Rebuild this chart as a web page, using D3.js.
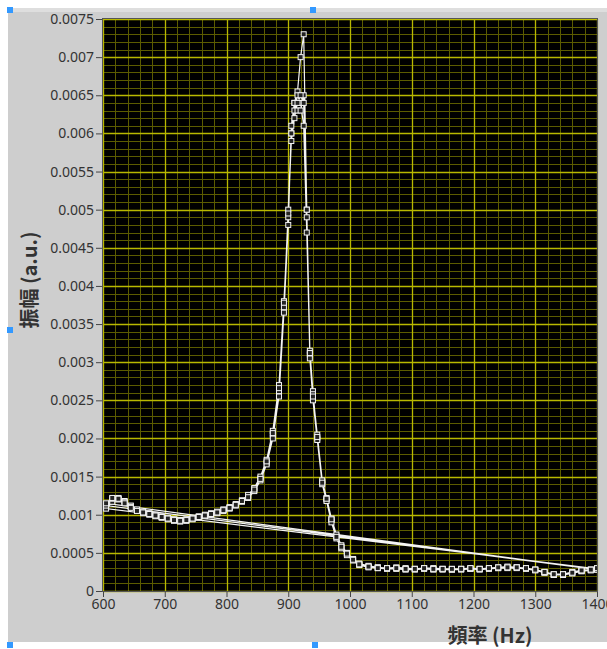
<!DOCTYPE html>
<html>
<head>
<meta charset="utf-8">
<script src="https://cdn.jsdelivr.net/npm/d3@7"></script>
<style>
  body { margin: 0; background: #fff; }
  svg { display: block; }
  .axis text { font-family: "Noto Sans", "DejaVu Sans", sans-serif; font-size: 14px; fill: #333; }
  .axis line { stroke: #444; }
  .axis .domain { display: none; }
</style>
</head>
<body>
<div id="chart"></div>
<script>
// frequency points of each sweep (Hz)
const freqs = [605,615,625,635,645,655,665,675,685,695,705,715,725,735,745,755,765,775,785,795,
  805,815,825,835,845,855,865,875,885,893,900,905,910,915,920,925,930,935,940,947,
  955,962,970,978,986,995,1005,1015,1030,1045,1060,1075,1090,1105,1120,1135,1150,1165,1180,1195,
  1210,1225,1240,1255,1270,1285,1300,1315,1330,1345,1360,1375,1390,1400];

// amplitude of the four sweeps (a.u.)
const sweepA = [0.00110,0.00119,0.00120,0.00116,0.00111,0.00106,0.00103,0.00101,0.00099,0.00097,
  0.00095,0.00093,0.00092,0.00093,0.00095,0.00097,0.00099,0.00101,0.00103,0.00106,
  0.00109,0.00113,0.00118,0.00124,0.00133,0.00148,0.00168,0.00205,0.00262,0.00372,
  0.00500,0.00600,0.00640,0.00655,0.00700,0.00730,0.00500,0.00315,0.00262,0.00200,
  0.00143,0.00120,0.00093,0.00072,0.00058,0.00049,0.00041,0.00035,0.00032,0.00031,
  0.00030,0.00030,0.00029,0.00029,0.00030,0.00029,0.00029,0.00028,0.00029,0.00029,
  0.00029,0.00030,0.00030,0.00031,0.00031,0.00030,0.00028,0.00025,0.00022,0.00022,
  0.00025,0.00027,0.00028,0.00029];
const sweepB = [0.00108,0.00117,0.00121,0.00118,0.00112,0.00107,0.00104,0.00102,0.00100,0.00098,
  0.00096,0.00094,0.00093,0.00094,0.00096,0.00098,0.00100,0.00102,0.00104,0.00107,
  0.00110,0.00114,0.00119,0.00126,0.00135,0.00150,0.00172,0.00210,0.00270,0.00380,
  0.00490,0.00600,0.00630,0.00650,0.00640,0.00610,0.00470,0.00310,0.00258,0.00205,
  0.00145,0.00122,0.00095,0.00074,0.00060,0.00050,0.00042,0.00036,0.00033,0.00031,
  0.00030,0.00031,0.00030,0.00029,0.00030,0.00030,0.00029,0.00029,0.00029,0.00030,
  0.00029,0.00030,0.00031,0.00032,0.00031,0.00030,0.00028,0.00024,0.00021,0.00022,
  0.00024,0.00026,0.00028,0.00028];
const sweepC = [0.00112,0.00121,0.00122,0.00117,0.00110,0.00105,0.00102,0.00100,0.00098,0.00096,
  0.00094,0.00092,0.00091,0.00092,0.00094,0.00096,0.00098,0.00100,0.00102,0.00105,
  0.00108,0.00112,0.00117,0.00122,0.00131,0.00145,0.00166,0.00200,0.00255,0.00365,
  0.00480,0.00610,0.00640,0.00630,0.00630,0.00650,0.00490,0.00305,0.00250,0.00198,
  0.00140,0.00118,0.00090,0.00069,0.00056,0.00047,0.00040,0.00034,0.00031,0.00030,
  0.00029,0.00029,0.00028,0.00028,0.00029,0.00028,0.00028,0.00028,0.00028,0.00029,
  0.00028,0.00029,0.00030,0.00030,0.00030,0.00029,0.00027,0.00024,0.00021,0.00021,
  0.00023,0.00026,0.00027,0.00028];
const sweepD = [0.00115,0.00122,0.00121,0.00115,0.00109,0.00105,0.00103,0.00101,0.00099,0.00097,
  0.00095,0.00093,0.00092,0.00093,0.00095,0.00097,0.00099,0.00101,0.00103,0.00106,
  0.00109,0.00113,0.00118,0.00123,0.00133,0.00147,0.00170,0.00207,0.00266,0.00378,
  0.00495,0.00590,0.00620,0.00640,0.00650,0.00640,0.00500,0.00312,0.00255,0.00202,
  0.00142,0.00121,0.00094,0.00071,0.00058,0.00049,0.00041,0.00035,0.00032,0.00030,
  0.00030,0.00030,0.00029,0.00029,0.00030,0.00029,0.00029,0.00029,0.00029,0.00030,
  0.00029,0.00030,0.00031,0.00031,0.00031,0.00030,0.00028,0.00025,0.00022,0.00022,
  0.00024,0.00027,0.00028,0.00030];

const xTicks = [600,700,800,900,1000,1100,1200,1300,1400];
const yTicks = [0,0.0005,0.001,0.0015,0.002,0.0025,0.003,0.0035,0.004,0.0045,0.005,0.0055,0.006,0.0065,0.007,0.0075];

const width = 607, height = 649;
const plot = { left: 103, top: 19, right: 597, bottom: 591 };

const svg = d3.select('#chart').append('svg')
    .attr('width', width)
    .attr('height', height);

// grey panel
svg.append('rect').attr('x', 8).attr('y', 8).attr('width', width - 8).attr('height', 634)
    .attr('fill', '#cecece');
svg.append('rect').attr('x', 8).attr('y', 8).attr('width', width - 8).attr('height', 4)
    .attr('fill', '#dedede');

let x = d3.scaleLinear().domain([600, 1400]).range([plot.left, plot.right]);
let y = d3.scaleLinear().domain([0, 0.0075]).range([plot.bottom, plot.top]);

// plot background
svg.append('rect')
    .attr('x', plot.left).attr('y', plot.top)
    .attr('width', plot.right - plot.left).attr('height', plot.bottom - plot.top)
    .attr('fill', '#000');

// grid: minor then major
let grid = svg.append('g');
grid.selectAll('.vmin').data(x.ticks(40)).enter().append('line')
    .attr('x1', d => Math.round(x(d)) + 0.5).attr('x2', d => Math.round(x(d)) + 0.5)
    .attr('y1', plot.top).attr('y2', plot.bottom)
    .attr('stroke', '#5c5c00').attr('stroke-width', 1);
grid.selectAll('.hmin').data(y.ticks(75)).enter().append('line')
    .attr('y1', d => Math.round(y(d)) + 0.5).attr('y2', d => Math.round(y(d)) + 0.5)
    .attr('x1', plot.left).attr('x2', plot.right)
    .attr('stroke', '#5c5c00').attr('stroke-width', 1);
grid.selectAll('.vmaj').data(xTicks).enter().append('line')
    .attr('x1', d => Math.round(x(d)) + 0.5).attr('x2', d => Math.round(x(d)) + 0.5)
    .attr('y1', plot.top).attr('y2', plot.bottom)
    .attr('stroke', '#b8b800').attr('stroke-width', 1.3);
grid.selectAll('.hmaj').data(yTicks).enter().append('line')
    .attr('y1', d => Math.round(y(d)) + 0.5).attr('y2', d => Math.round(y(d)) + 0.5)
    .attr('x1', plot.left).attr('x2', plot.right)
    .attr('stroke', '#b8b800').attr('stroke-width', 1.3);

// axes
let fmt = d => d === 0 ? '0' : String(+d.toFixed(4));
svg.append('g').attr('class', 'axis x')
    .attr('transform', 'translate(0,' + plot.bottom + ')')
    .call(d3.axisBottom(x).tickValues(xTicks).tickSize(6).tickPadding(2).tickFormat(d => d));
svg.append('g').attr('class', 'axis y')
    .attr('transform', 'translate(' + (plot.left - 1) + ',0)')
    .call(d3.axisLeft(y).tickValues(yTicks).tickSize(6).tickPadding(2).tickFormat(fmt));

// data: sweeps joined into one trace
let points = [];
[sweepA, sweepB, sweepC, sweepD].forEach(s => {
    s.forEach((v, i) => points.push([freqs[i], v]));
});

svg.append('clipPath').attr('id', 'clip').append('rect')
    .attr('x', plot.left).attr('y', plot.top)
    .attr('width', plot.right - plot.left).attr('height', plot.bottom - plot.top);

let plotGroup = svg.append('g').attr('clip-path', 'url(#clip)');

let line = d3.line().x(d => x(d[0])).y(d => y(d[1]));
plotGroup.append('path')
    .datum(points)
    .attr('d', line)
    .attr('fill', 'none')
    .attr('stroke', '#f4f4f4')
    .attr('stroke-width', 1.2);

plotGroup.selectAll('rect.marker')
    .data(points)
    .enter().append('rect')
        .attr('class', 'marker')
        .attr('x', d => x(d[0]) - 2.5)
        .attr('y', d => y(d[1]) - 2.5)
        .attr('width', 5).attr('height', 5)
        .attr('fill', '#222')
        .attr('stroke', '#f4f4f4')
        .attr('stroke-width', 1);

// frame
svg.append('rect')
    .attr('x', plot.left - 0.5).attr('y', plot.top - 0.5)
    .attr('width', plot.right - plot.left + 1).attr('height', plot.bottom - plot.top + 1)
    .attr('fill', 'none').attr('stroke', '#555').attr('stroke-width', 1);

// axis titles
svg.append('text')
    .attr('x', 490).attr('y', 643)
    .attr('text-anchor', 'middle')
    .attr('font-family', '"Noto Sans CJK TC", "Noto Sans", sans-serif')
    .attr('font-size', 20).attr('font-weight', 'bold').attr('fill', '#333')
    .text('頻率 (Hz)');
svg.append('text')
    .attr('transform', 'translate(37,280) rotate(-90)')
    .attr('text-anchor', 'middle')
    .attr('font-family', '"Noto Sans CJK TC", "Noto Sans", sans-serif')
    .attr('font-size', 20).attr('font-weight', 'bold').attr('fill', '#333')
    .text('振幅 (a.u.)');

// selection handles
let handles = [[10, 10], [313, 10], [10, 330], [10, 645], [315, 645]];
svg.selectAll('rect.handle').data(handles).enter().append('rect')
    .attr('class', 'handle')
    .attr('x', d => d[0] - 3).attr('y', d => d[1] - 3)
    .attr('width', 6).attr('height', 6)
    .attr('fill', '#3399ff');
</script>
</body>
</html>
